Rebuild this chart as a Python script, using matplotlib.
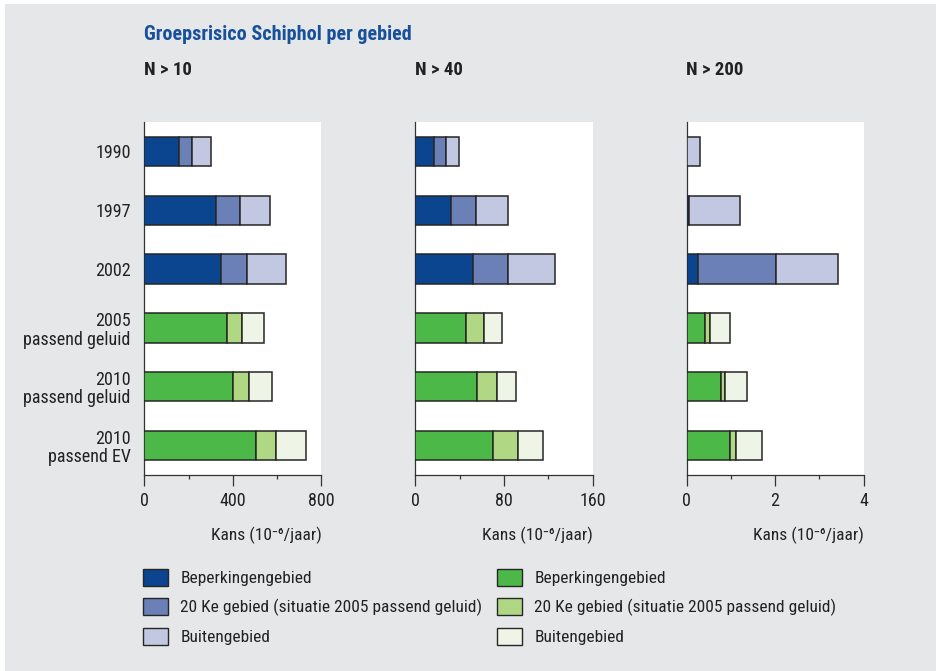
import matplotlib
matplotlib.use("Agg")
import matplotlib.pyplot as plt
from matplotlib import font_manager
from matplotlib.patches import Rectangle, Patch

# ---------------- data ----------------
categories = ["1990", "1997", "2002", "2005\npassend geluid",
              "2010\npassend geluid", "2010\npassend EV"]
panel_titles = ["N > 10", "N > 40", "N > 200"]

n10_beperking = [155, 323, 346, 373, 400, 505]
n10_20ke = [60, 109, 118, 68, 71, 88]
n10_buiten = [86, 137, 175, 101, 106, 135]

n40_beperking = [17, 32, 52, 45.5, 55.5, 70]
n40_20ke = [11, 23, 32, 16.5, 18, 23]
n40_buiten = [11, 29, 42.5, 16.5, 17.5, 22]

n200_beperking = [0.01, 0.05, 0.27, 0.415, 0.78, 0.98]
n200_20ke = [0.01, 0.01, 1.76, 0.12, 0.10, 0.145]
n200_buiten = [0.28, 1.15, 1.39, 0.44, 0.48, 0.585]

xlims = [800, 160, 4]
major_ticks = [[0, 400, 800], [0, 80, 160], [0, 2, 4]]
minor_ticks = [[200, 600], [40, 120], [1, 3]]

legend_labels = ["Beperkingengebied", "20 Ke gebied (situatie 2005 passend geluid)",
                 "Buitengebied"]
xlabel_text = "Kans (10\u207b\u2076/jaar)"

# ---------------- style ----------------
blue_cols = ["#0b4590", "#6a80b7", "#c3c8e2"]
green_cols = ["#4cb847", "#b0d784", "#eff5e6"]
edge = "#262626"
bg = "#e6e7e9"
title_blue = "#17509b"


def pick(names):
    for n in names:
        try:
            font_manager.findfont(n, fallback_to_default=False)
            return n
        except Exception:
            pass
    return "Liberation Sans"


fam = pick(["Nimbus Sans Narrow", "Liberation Sans Narrow", "Arial Narrow",
            "Roboto Condensed", "Archivo Narrow"])
plt.rcParams["font.family"] = [fam, "DejaVu Sans"]

W, H = 937, 671
fig = plt.figure(figsize=(W / 100, H / 100), dpi=100, facecolor=bg)

# thin white border top/left as in reference
fig.patches.append(Rectangle((0, 1 - 4 / H), 1, 4 / H, transform=fig.transFigure,
                             facecolor="white", edgecolor="none", zorder=-10))
fig.patches.append(Rectangle((0, 0), 5 / W, 1, transform=fig.transFigure,
                             facecolor="white", edgecolor="none", zorder=-10))


def fx(px):
    return px / W


def fy(py):
    return 1 - py / H


ax_left = [144.5, 415.5, 686.5]
ax_w = 177
ax_top, ax_bot = 122, 475

data = [(n10_beperking, n10_20ke, n10_buiten),
        (n40_beperking, n40_20ke, n40_buiten),
        (n200_beperking, n200_20ke, n200_buiten)]

ypos = list(range(len(categories)))
tick_col = "#333333"
txt_col = "#222222"
fs = 13

for i in range(3):
    ax = fig.add_axes([fx(ax_left[i]), fy(ax_bot), ax_w / W, (ax_bot - ax_top) / H])
    ax.set_facecolor("white")
    b, m, o = data[i]
    for j in ypos:
        cols = blue_cols if j < 3 else green_cols
        left = 0
        for val, c in zip((b[j], m[j], o[j]), cols):
            ax.barh(j, val, left=left, height=0.5, color=c, edgecolor=edge,
                    linewidth=1.1, zorder=3)
            left += val
    ax.set_ylim(5.5, -0.5)
    ax.set_xlim(0, xlims[i])
    ax.set_xticks(major_ticks[i])
    ax.set_xticks(minor_ticks[i], minor=True)
    ax.set_xticklabels([str(t) for t in major_ticks[i]])
    ax.tick_params(axis="x", which="major", length=8, width=0.9, color=tick_col,
                   labelsize=fs, labelcolor=txt_col, pad=4)
    ax.tick_params(axis="x", which="minor", length=3, width=0.9, color=tick_col)
    for s in ("top", "right"):
        ax.spines[s].set_visible(False)
    for s in ("left", "bottom"):
        ax.spines[s].set_color(tick_col)
        ax.spines[s].set_linewidth(0.9)
    ax.set_yticks(ypos)
    if i == 0:
        ax.set_yticklabels(categories, fontsize=fs, color=txt_col,
                           linespacing=1.05)
        ax.tick_params(axis="y", length=0, pad=10)
    else:
        ax.set_yticklabels([])
        ax.tick_params(axis="y", length=0)
    fig.text(fx(ax_left[i]), fy(75), panel_titles[i], fontsize=13.5,
             fontweight="bold", color=txt_col, ha="left", va="baseline")
    fig.text(fx(ax_left[i] + ax_w), fy(540), xlabel_text,
             fontsize=12.5, color=txt_col, ha="right", va="baseline")

fig.text(fx(144), fy(40), "Groepsrisico Schiphol per gebied", fontsize=14.5,
         fontweight="bold", color=title_blue, ha="left", va="baseline")

# legends
for cols, xpx in ((blue_cols, 143), (green_cols, 497)):
    handles = [Patch(facecolor=c, edgecolor=edge, linewidth=1.0) for c in cols]
    fig.legend(handles, legend_labels, loc="upper left",
               bbox_to_anchor=(fx(xpx), fy(569)), frameon=False,
               fontsize=12.5, handlelength=1.45, handleheight=1.1,
               handletextpad=0.7, labelspacing=0.68, borderpad=0,
               borderaxespad=0, labelcolor=txt_col)

fig.savefig("out.png", dpi=100, facecolor=bg)
